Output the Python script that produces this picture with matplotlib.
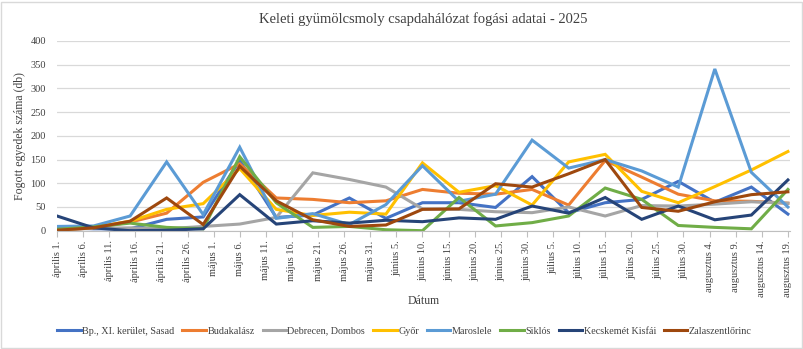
import matplotlib
matplotlib.use("Agg")
import matplotlib.pyplot as plt
import pandas as pd
from matplotlib.patches import Rectangle

plt.rcParams['font.family'] = ['Liberation Serif', 'DejaVu Serif']

sample_dates = ["2025-04-01", "2025-04-08", "2025-04-15", "2025-04-22", "2025-04-29",
                "2025-05-06", "2025-05-13", "2025-05-20", "2025-05-27", "2025-06-03",
                "2025-06-10", "2025-06-17", "2025-06-24", "2025-07-01", "2025-07-08",
                "2025-07-15", "2025-07-22", "2025-07-29", "2025-08-05", "2025-08-12",
                "2025-08-19"]

bp_sasad = [7, 4, 4, 24, 29, 148, 28, 33, 69, 26, 59, 59, 49, 114, 38, 59, 66, 104, 60, 92, 35]
budakalasz = [1, 6, 18, 37, 102, 141, 69, 66, 59, 63, 87, 79, 77, 87, 54, 148, 113, 77, 63, 62, 58]
debrecen = [2, 5, 6, 4, 9, 14, 28, 122, 108, 92, 46, 45, 40, 38, 50, 31, 53, 52, 56, 61, 58]
gyor = [2, 7, 20, 45, 57, 131, 45, 32, 39, 35, 143, 81, 95, 54, 145, 161, 83, 59, 93, 128, 167]
maroslele = [9, 10, 31, 145, 34, 176, 26, 36, 13, 55, 137, 62, 77, 191, 132, 150, 126, 92, 341, 123, 50]
siklos = [3, 8, 16, 7, 4, 156, 59, 7, 9, 2, 0, 70, 10, 17, 31, 90, 66, 11, 7, 4, 87]
kecskemet = [31, 6, 0, 1, 4, 76, 14, 21, 16, 22, 19, 27, 24, 52, 37, 70, 24, 52, 23, 33, 107]
zalaszentlorinc = [1, 6, 20, 69, 13, 136, 63, 23, 9, 12, 45, 46, 99, 92, 120, 150, 49, 41, 61, 76, 82]

series_names = ["Bp., XI. kerület, Sasad", "Budakalász", "Debrecen, Dombos", "Győr",
                "Maroslele", "Siklós", "Kecskemét Kisfái", "Zalaszentlőrinc"]
series_values = [bp_sasad, budakalasz, debrecen, gyor, maroslele, siklos, kecskemet, zalaszentlorinc]
series_colors = ["#4472C4", "#ED7D31", "#A5A5A5", "#FFC000", "#5B9BD5", "#70AD47", "#264478", "#9E480E"]

tick_labels = ["április 1.", "április 6.", "április 11.", "április 16.", "április 21.", "április 26.",
               "május 1.", "május 6.", "május 11.", "május 16.", "május 21.", "május 26.", "május 31.",
               "június 5.", "június 10.", "június 15.", "június 20.", "június 25.", "június 30.",
               "július 5.", "július 10.", "július 15.", "július 20.", "július 25.", "július 30.",
               "augusztus 4.", "augusztus 9.", "augusztus 14.", "augusztus 19."]

title = "Keleti gyümölcsmoly csapdahálózat fogási adatai - 2025"
y_label = "Fogott egyedek száma (db)"
x_label = "Dátum"

dates = pd.to_datetime(sample_dates)
tick_dates = pd.date_range(dates[0], dates[-1], freq="5D")

fig = plt.figure(figsize=(8.04, 3.49), dpi=100)
ax = fig.add_axes([57 / 804, 1 - 230.7 / 349, (790 - 57) / 804, (230.7 - 41) / 349])

for name, vals, col in zip(series_names, series_values, series_colors):
    ax.plot(dates, vals, color=col, lw=2.2, label=name, solid_joinstyle='miter')

ax.set_xlim(dates[0], dates[-1] + pd.Timedelta(days=0.4))
ax.set_ylim(0, 400)
ax.set_yticks(range(0, 401, 50))
ax.set_xticks(tick_dates)
ax.set_xticklabels(tick_labels, rotation=90, fontsize=7.5)
ax.tick_params(axis='y', length=0, labelsize=7.5, pad=8, colors='#404040')
ax.tick_params(axis='x', length=4, color='#BFBFBF', pad=3, colors='#404040')
ax.grid(axis='y', color='#D9D9D9', lw=0.9)
ax.set_axisbelow(True)
for s in ['top', 'right', 'left']:
    ax.spines[s].set_visible(False)
ax.spines['bottom'].set_color('#BFBFBF')

ax.set_ylabel(y_label, fontsize=8.5, color='#404040', labelpad=3)
fig.text(0.5 * (57 + 790) / 804, 1 - 301 / 349, x_label, ha='center', va='center', fontsize=8.5, color='#404040')
fig.text(0.5 * (57 + 790) / 804, 1 - 19 / 349, title, ha='center', va='center', fontsize=10.5, color='#404040')

handles, labels = ax.get_legend_handles_labels()
fig.legend(handles, labels, loc='center', bbox_to_anchor=(404.5 / 804, 1 - 331 / 349), ncol=8, frameon=False,
           fontsize=7.3, handlelength=2.3, columnspacing=0.8, handletextpad=0.15, labelcolor='#404040',
           borderpad=0, borderaxespad=0)

fig.patches.append(Rectangle((1.5 / 804, 1.5 / 349), 801 / 804, 346 / 349, transform=fig.transFigure,
                             fill=False, edgecolor='#D9D9D9', lw=1.0))

fig.savefig("out.png", dpi=100)
